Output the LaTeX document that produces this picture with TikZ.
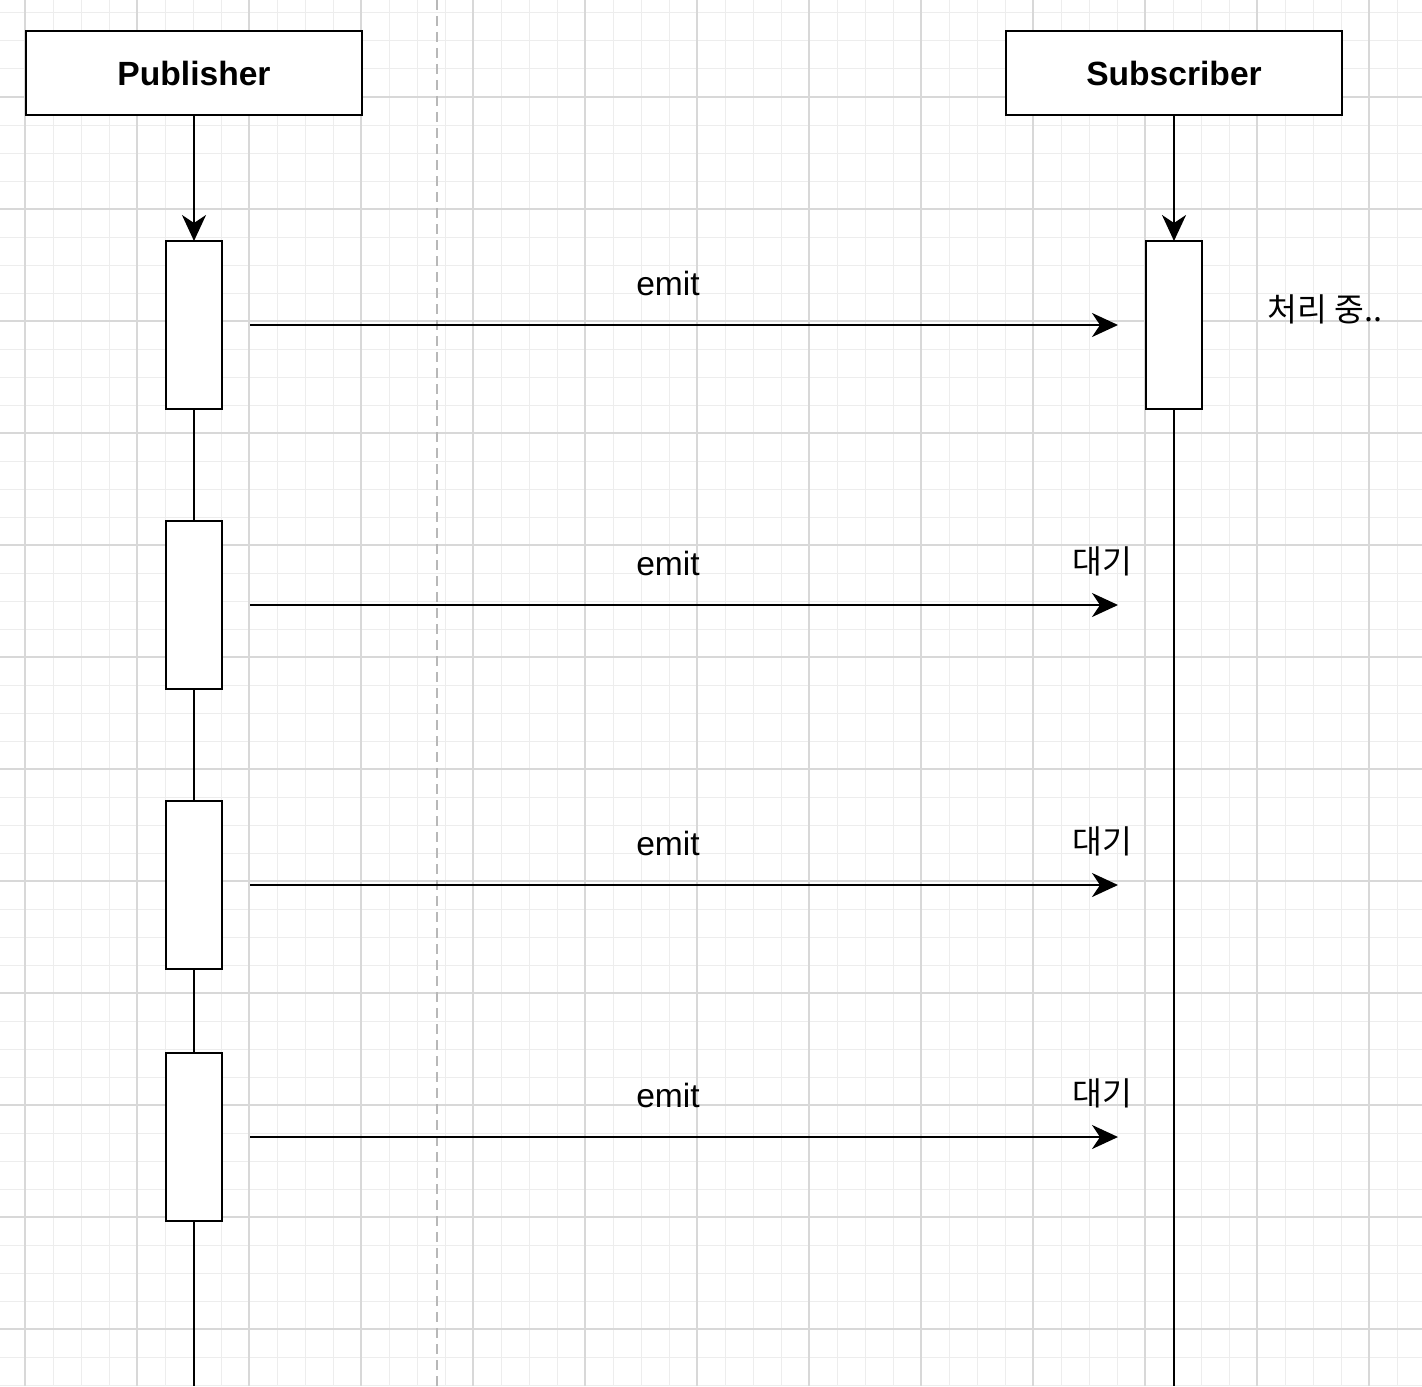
\documentclass[tikz,border=0pt]{standalone}
\usepackage{fontspec}
\setmainfont{Liberation Sans}
\newfontfamily\krfont{Noto Sans CJK KR}
\usetikzlibrary{arrows.meta}
\definecolor{gridminor}{HTML}{EDEDED}
\definecolor{gridmajor}{HTML}{D8D8D8}
\definecolor{dashgray}{HTML}{B8B8B8}
\tikzset{
  actor/.style={draw,line width=1.2pt,fill=white,minimum width=168pt,minimum height=42pt,
    inner sep=0pt,outer sep=0pt,font=\fontsize{16.8}{20}\selectfont\bfseries},
  activation/.style={draw,line width=1.2pt,fill=white,minimum width=28pt,minimum height=84pt,
    inner sep=0pt,outer sep=0pt},
  msg/.style={line width=1.2pt,-{Stealth[length=13pt,width=12pt,inset=4pt]}},
  lifeline/.style={line width=1.2pt},
  label/.style={inner sep=0pt,font=\fontsize{16.8}{20}\selectfont},
  krlabel/.style={inner sep=0pt,font=\fontsize{16.2}{19}\krfont}
}
\begin{document}
\begin{tikzpicture}[x=0.5pt,y=-0.5pt]
  \useasboundingbox (0,0) rectangle (1422,1386);
  % background grid
  \foreach \k in {0,...,49} {
    \draw[gridminor,line width=0.5pt] (25+28*\k,0) -- (25+28*\k,1386);
    \draw[gridminor,line width=0.5pt] (0,13+28*\k) -- (1422,13+28*\k);
  }
  \foreach \k in {0,...,12} {
    \draw[gridmajor,line width=0.6pt] (25+112*\k,0) -- (25+112*\k,1386);
    \draw[gridmajor,line width=0.6pt] (0,97+112*\k) -- (1422,97+112*\k);
  }
  \draw[dashgray,line width=1pt,dash pattern=on 5pt off 3pt] (437,0) -- (437,1386);

  % actors
  \node[actor] (pub) at (194,73) {Publisher};
  \node[actor] (sub) at (1174,73) {Subscriber};

  % activations
  \node[activation] (p1) at (194,325) {};
  \node[activation] (p2) at (194,605) {};
  \node[activation] (p3) at (194,885) {};
  \node[activation] (p4) at (194,1137) {};
  \node[activation] (s1) at (1174,325) {};
  \coordinate (pend) at (194,1386);
  \coordinate (send) at (1174,1386);

  % lifelines
  \draw[msg] (pub) -- (p1);
  \draw[msg] (sub) -- (s1);
  \foreach \from/\to in {p1/p2,p2/p3,p3/p4}
    \draw[lifeline] (\from.south) -- (\to.north);
  \draw[lifeline] (p4.south) -- (pend);
  \draw[lifeline] (s1.south) -- (send);

  % messages
  \foreach \n/\y in {1/325,2/605,3/885,4/1137} {
    \coordinate (m\n a) at (250,\y);
    \coordinate (m\n b) at (1118,\y);
    \draw[msg] (m\n a) -- (m\n b);
    \node[label] (emit\n) at (668,\y-42) {emit};
  }
  \node[krlabel] (busy) at (1325,309) {처리 중..};
  \foreach \n/\y in {2/561,3/841,4/1093}
    \node[krlabel] (wait\n) at (1102,\y) {대기};
\end{tikzpicture}
\end{document}
